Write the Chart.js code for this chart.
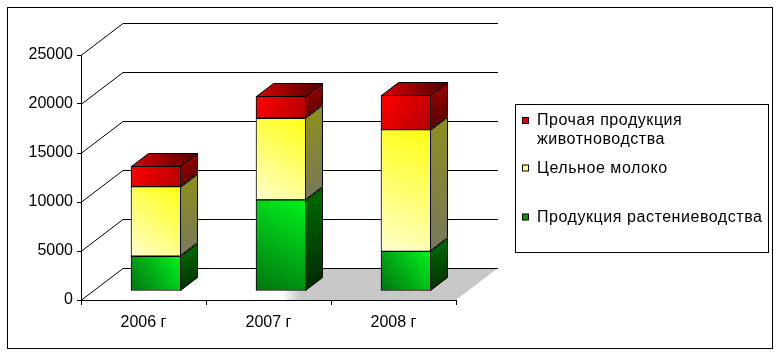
<!DOCTYPE html>
<html>
<head>
<meta charset="utf-8">
<script src="https://cdn.jsdelivr.net/npm/chart.js@4.4.1/dist/chart.umd.min.js"></script>
<style>
html,body{margin:0;padding:0;background:#fff;}
canvas{display:block;}
</style>
</head>
<body>
<canvas id="c" width="781" height="356"></canvas>
<script>
// ---- data ----
const categories = ['2006 г', '2007 г', '2008 г'];
const cropProduction = [3550, 9300, 4050];      // Продукция растениеводства
const wholeMilk = [7100, 8330, 12420];          // Цельное молоко
const otherLivestock = [2130, 2270, 3520];      // Прочая продукция животноводства
const seriesNames = ['Продукция растениеводства', 'Цельное молоко', 'Прочая продукция животноводства'];
const legendLines = [['Прочая продукция', 'животноводства'], ['Цельное молоко'], ['Продукция растениеводства']];
const yTicks = [0, 5000, 10000, 15000, 20000, 25000];

// ---- styling ----
const FONT = '"Liberation Sans", Arial, sans-serif';
const DEPTH_X = 42, DEPTH_Y = 32;     // back wall offset
const BAR_OFF_X = 12.5, BAR_OFF_Y = 9; // bar front offset into depth
const BAR_D_X = 17, BAR_D_Y = 13;      // bar depth

const palettes = [
  {front: ['#00f41c', '#007410'], side: ['#006400', '#002800'], legend: '#00a000'},
  {front: ['#ffff10', '#ffffcc'], side: ['#8c8c22', '#78785e'], legend: '#ffff80'},
  {front: ['#ff0000', '#b40000'], side: ['#900000', '#500000'], top: ['#d80000', '#500000'], legend: '#e00000'}
];

function lg(ctx, x0, y0, x1, y1, c0, c1) {
  const g = ctx.createLinearGradient(x0, y0, x1, y1);
  g.addColorStop(0, c0); g.addColorStop(1, c1);
  return g;
}

const threeD = {
  id: 'threeD',
  beforeDraw(chart) {
    const ctx = chart.ctx;
    ctx.save();
    ctx.fillStyle = '#fff';
    ctx.fillRect(0, 0, chart.width, chart.height);
    ctx.strokeStyle = '#000';
    ctx.lineWidth = 1;
    ctx.strokeRect(7.5, 7.5, 765, 341);
    ctx.restore();
  },
  beforeDatasetsDraw(chart) {
    const ctx = chart.ctx;
    const a = chart.chartArea;
    const y = chart.scales.y;
    ctx.save();
    // floor shadow
    const sg = ctx.createLinearGradient(282, 0, 300, 0);
    sg.addColorStop(0, 'rgba(200,200,200,0)');
    sg.addColorStop(1, 'rgba(200,200,200,1)');
    ctx.fillStyle = sg;
    ctx.beginPath();
    ctx.moveTo(282, a.bottom);
    ctx.lineTo(a.right, a.bottom);
    ctx.lineTo(a.right + DEPTH_X, a.bottom - DEPTH_Y);
    ctx.lineTo(282, a.bottom - DEPTH_Y);
    ctx.closePath();
    ctx.fill();
    // gridlines on the wall
    ctx.strokeStyle = '#000';
    ctx.lineWidth = 1;
    y.ticks.forEach(t => {
      const py = Math.round(y.getPixelForValue(t.value)) + 0.5;
      ctx.beginPath();
      ctx.moveTo(a.left, py);
      ctx.lineTo(a.left + DEPTH_X, py - DEPTH_Y);
      ctx.lineTo(a.right + DEPTH_X, py - DEPTH_Y);
      ctx.stroke();
    });
    ctx.restore();

    // gradients for bar fronts (each element has its own options object)
    chart.data.datasets.forEach((ds, di) => {
      const meta = chart.getDatasetMeta(di);
      const p = palettes[di];
      meta.data.forEach(el => {
        const l = el.x - el.width / 2, r = el.x + el.width / 2;
        let g;
        if (di === 2) g = lg(ctx, l, el.y, r, el.base, p.front[0], p.front[1]);
        else g = lg(ctx, r, el.y, l, el.base, p.front[0], p.front[1]);
        el.options.backgroundColor = g;
      });
    });
    ctx.save();
    ctx.translate(BAR_OFF_X, -BAR_OFF_Y);
  },
  afterDatasetsDraw(chart) {
    const ctx = chart.ctx;
    const n = chart.data.datasets.length;
    ctx.strokeStyle = '#000';
    ctx.lineWidth = 1;
    chart.data.datasets.forEach((ds, di) => {
      const meta = chart.getDatasetMeta(di);
      const p = palettes[di];
      meta.data.forEach(el => {
        const l = el.x - el.width / 2, r = el.x + el.width / 2 - 0.5;
        const top = Math.round(el.y) + 0.5, bot = Math.round(el.base) - 0.5;
        // side face
        ctx.fillStyle = lg(ctx, r, top, r + BAR_D_X, bot, p.side[0], p.side[1]);
        ctx.beginPath();
        ctx.moveTo(r, top);
        ctx.lineTo(r + BAR_D_X, top - BAR_D_Y);
        ctx.lineTo(r + BAR_D_X, bot - BAR_D_Y);
        ctx.lineTo(r, bot);
        ctx.closePath();
        ctx.fill(); ctx.stroke();
        if (di === n - 1) {
          ctx.fillStyle = lg(ctx, l, top, r + BAR_D_X, top, p.top[0], p.top[1]);
          ctx.beginPath();
          ctx.moveTo(l + 0.5, top);
          ctx.lineTo(l + 0.5 + BAR_D_X, top - BAR_D_Y);
          ctx.lineTo(r + BAR_D_X, top - BAR_D_Y);
          ctx.lineTo(r, top);
          ctx.closePath();
          ctx.fill(); ctx.stroke();
        }
      });
    });
    ctx.restore();
  },
  afterDraw(chart) {
    const ctx = chart.ctx;
    ctx.save();
    ctx.fillStyle = '#fff';
    ctx.strokeStyle = '#000';
    ctx.lineWidth = 1;
    ctx.fillRect(515.5, 104.5, 253, 148);
    ctx.strokeRect(515.5, 104.5, 253, 148);
    ctx.font = '16px ' + FONT;
    if ('letterSpacing' in ctx) ctx.letterSpacing = '0.55px';
    ctx.textBaseline = 'middle';
    ctx.textAlign = 'left';
    const rows = [[121, 140], [168.5], [217.5]];
    const order = [2, 1, 0];
    order.forEach((di, i) => {
      const cy = rows[i][0];
      ctx.fillStyle = palettes[di].legend;
      ctx.fillRect(522.5, cy - 3.5, 6, 6);
      ctx.strokeRect(522.5, cy - 3.5, 6, 6);
      ctx.fillStyle = '#000';
      legendLines[i].forEach((line, li) => {
        ctx.fillText(line, 537, rows[i][li]);
      });
    });
    ctx.restore();
  }
};

new Chart(document.getElementById('c'), {
  type: 'bar',
  data: {
    labels: categories,
    datasets: [
      {label: seriesNames[0], data: cropProduction},
      {label: seriesNames[1], data: wholeMilk},
      {label: seriesNames[2], data: otherLivestock}
    ].map(d => Object.assign(d, {
      backgroundColor: () => '#888',
      borderColor: '#000', borderWidth: 1, borderSkipped: false,
      barThickness: 50, clip: false
    }))
  },
  options: {
    responsive: false,
    animation: false,
    devicePixelRatio: 1,
    layout: {padding: {left: 0, right: 325, top: 55, bottom: 16}},
    plugins: {legend: {display: false}, tooltip: {enabled: false}},
    scales: {
      x: {
        stacked: true,
        grid: {drawOnChartArea: false, drawTicks: true, tickLength: 5, color: '#000', offset: true},
        border: {display: true, color: '#000'},
        ticks: {color: '#000', font: {family: FONT, size: 16}, padding: 8},
        afterFit: s => { s.height = 40; }
      },
      y: {
        stacked: true,
        min: 0, max: 25000,
        afterBuildTicks: s => { s.ticks = yTicks.map(v => ({value: v})); },
        grid: {drawOnChartArea: false, drawTicks: true, tickLength: 4, color: '#000'},
        border: {display: true, color: '#000'},
        ticks: {color: '#000', font: {family: FONT, size: 16}, padding: 4, callback: v => String(v)},
        afterFit: s => { s.width = 81; }
      }
    }
  },
  plugins: [threeD]
});
</script>
</body>
</html>
